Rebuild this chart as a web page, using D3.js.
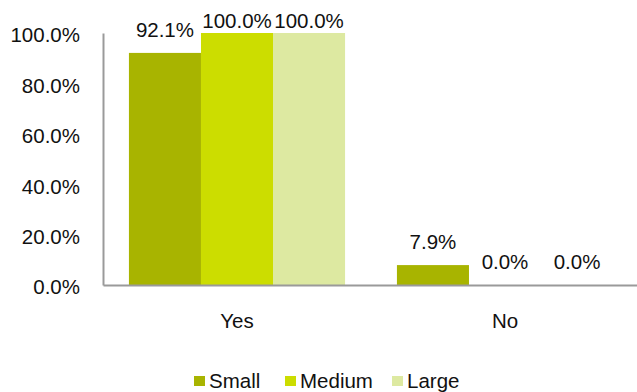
<!DOCTYPE html>
<html>
<head>
<meta charset="utf-8">
<script src="https://cdn.jsdelivr.net/npm/d3@7"></script>
<style>
  html, body { margin: 0; padding: 0; background: #fff; }
  svg { display: block; font-family: "Liberation Sans", Arial, sans-serif; }
</style>
</head>
<body>
<svg id="chart" width="637" height="392"></svg>
<script>
// Response categories and company-size series
const categories = ["Yes", "No"];
const seriesNames = ["Small", "Medium", "Large"];
const smallValues = [92.1, 7.9];
const mediumValues = [100.0, 0.0];
const largeValues = [100.0, 0.0];
const yTicks = [0, 20, 40, 60, 80, 100];
const seriesColors = ["#a8b400", "#ccdd00", "#dde9a1"];

const seriesValues = [smallValues, mediumValues, largeValues];
const FONT = 20.5;

const svg = d3.select("#chart");
const margin = { left: 103, right: -2, top: 33, bottom: 107 };
const W = 637, H = 392;
const x0 = margin.left, x1 = W - margin.right;
const yBase = H - margin.bottom, yTop = margin.top;

const x = d3.scaleBand().domain(categories).range([x0, x1]).paddingInner(0).paddingOuter(0);
const xs = d3.scaleBand().domain(seriesNames)
  .range([0, x.bandwidth()]).paddingOuter(0.36).paddingInner(0);
const y = d3.scaleLinear().domain([0, 100]).range([yBase, yTop]);

// Bars with value labels
categories.forEach((cat, ci) => {
  const g = svg.append("g").attr("transform", `translate(${x(cat)},0)`);
  seriesNames.forEach((s, si) => {
    const v = seriesValues[si][ci];
    g.append("rect")
      .attr("x", xs(s))
      .attr("y", y(v))
      .attr("width", xs.bandwidth())
      .attr("height", yBase - y(v))
      .attr("fill", seriesColors[si]);
    g.append("text")
      .attr("x", xs(s) + xs.bandwidth() / 2)
      .attr("y", Math.max(y(v) - 16, y(100) - 5))
      .attr("text-anchor", "middle")
      .attr("font-size", FONT)
      .attr("fill", "#111")
      .text(v.toFixed(1) + "%");
  });
});

// Y axis
const yAxis = d3.axisLeft(y).tickValues(yTicks).tickSize(0).tickPadding(23)
  .tickFormat(d => d.toFixed(1) + "%");
const ya = svg.append("g").attr("transform", `translate(${x0},0)`).call(yAxis);
ya.select(".domain").attr("stroke", "#9a9a9a").attr("stroke-width", 2);
ya.selectAll("text").attr("font-size", FONT).attr("fill", "#111").attr("dy", "0.43em")
  .attr("font-family", "Liberation Sans, Arial, sans-serif");

// X axis
const xAxis = d3.axisBottom(x).tickSize(0).tickPadding(28.5);
const xa = svg.append("g").attr("transform", `translate(0,${yBase})`).call(xAxis);
xa.select(".domain").attr("stroke", "#9a9a9a").attr("stroke-width", 2);
xa.selectAll("text").attr("font-size", FONT).attr("fill", "#111")
  .attr("font-family", "Liberation Sans, Arial, sans-serif");

// Legend
const legendX = [194, 285, 392];
const legend = svg.append("g");
seriesNames.forEach((s, i) => {
  legend.append("rect")
    .attr("x", legendX[i]).attr("y", 376)
    .attr("width", 11).attr("height", 10)
    .attr("fill", seriesColors[i]);
  legend.append("text")
    .attr("x", legendX[i] + 15).attr("y", 387.5)
    .attr("font-size", FONT).attr("fill", "#111")
    .text(s);
});
</script>
</body>
</html>
